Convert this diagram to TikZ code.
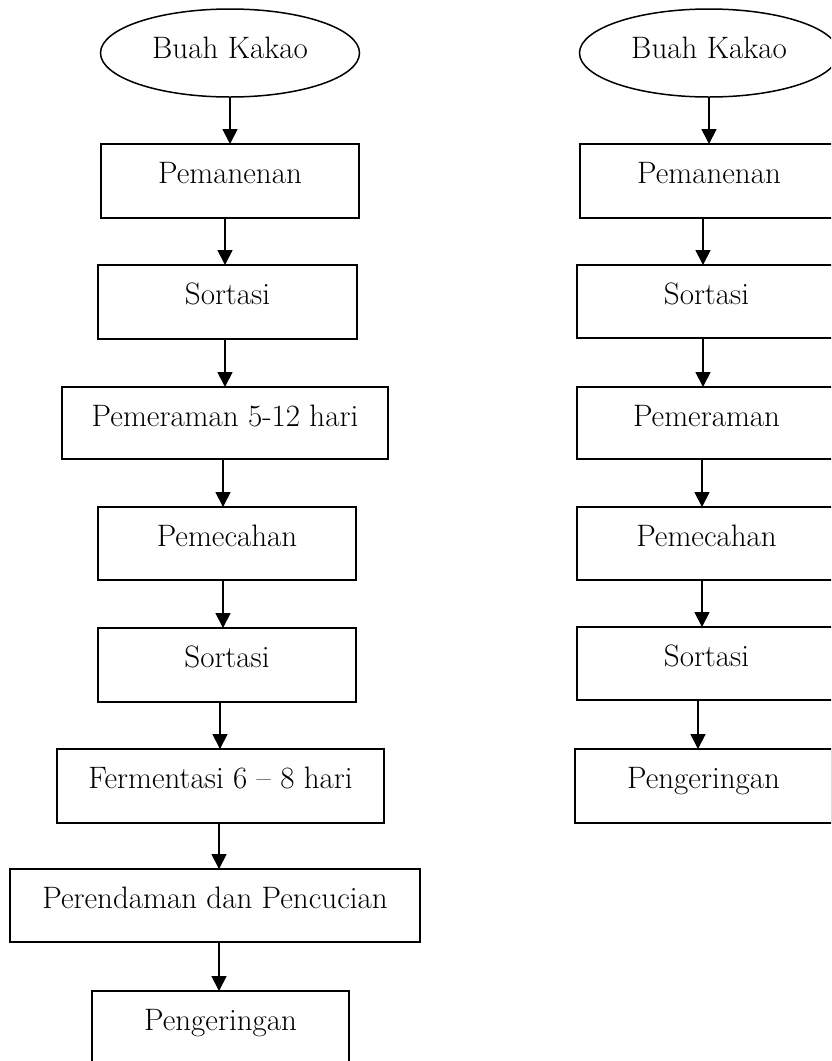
\documentclass[tikz,border=0pt]{standalone}
\usetikzlibrary{arrows.meta,shapes.geometric}
\begin{document}
\begin{tikzpicture}[x=1pt,y=-1pt,
  every node/.style={font=\fontsize{31}{36}\selectfont},
  stepbox/.style={draw, rectangle, line width=1.8pt, inner sep=0pt, outer sep=0pt,
    text height=39pt, text depth=35pt, anchor=north},
  startnode/.style={draw, ellipse, line width=1.5pt, inner sep=0pt, outer sep=0pt,
    text height=20pt, text depth=10pt, minimum width=259pt, minimum height=88pt},
  arr/.style={line width=1.8pt, -{Triangle[width=15pt,length=15pt]}}]
\useasboundingbox (0,0) rectangle (831,1061);
\clip (0,0) rectangle (831,1061);

% left column
\node[startnode] (e1) at (230,53) {Buah Kakao};
\node[stepbox, minimum width=258pt] (p1) at (230,144) {Pemanenan};
\node[stepbox, minimum width=259pt] (s1) at (227.5,265) {Sortasi};
\node[stepbox, minimum width=326pt, text depth=33pt] (m1) at (225,387) {Pemeraman 5-12 hari};
\node[stepbox, minimum width=258pt, text depth=34pt] (c1) at (227,507) {Pemecahan};
\node[stepbox, minimum width=258pt] (s2) at (227,628) {Sortasi};
\node[stepbox, minimum width=327pt] (f1) at (220.5,749) {Fermentasi 6 \textendash{} 8 hari};
\node[stepbox, minimum width=410pt, text depth=34pt] (r1) at (215,869) {Perendaman dan Pencucian};
\node[stepbox, minimum width=257pt] (g1) at (220.5,991) {Pengeringan};

\draw[arr] (e1.south) -- (e1.south |- p1.north);
\draw[arr] ([xshift=-5pt]p1.south) -- ([xshift=-5pt]p1.south |- s1.north);
\draw[arr] ([xshift=-2.5pt]s1.south) -- ([xshift=-2.5pt]s1.south |- m1.north);
\draw[arr] ([xshift=-2pt]m1.south) -- ([xshift=-2pt]m1.south |- c1.north);
\draw[arr] ([xshift=-4pt]c1.south) -- ([xshift=-4pt]c1.south |- s2.north);
\draw[arr] ([xshift=-7pt]s2.south) -- ([xshift=-7pt]s2.south |- f1.north);
\draw[arr] ([xshift=-1.5pt]f1.south) -- ([xshift=-1.5pt]f1.south |- r1.north);
\draw[arr] ([xshift=4pt]r1.south) -- ([xshift=4pt]r1.south |- g1.north);

% right column
\node[startnode] (e2) at (709,53) {Buah Kakao};
\node[stepbox, minimum width=258pt] (p2) at (709,144) {Pemanenan};
\node[stepbox, minimum width=259pt, text depth=34pt] (s3) at (706.5,265) {Sortasi};
\node[stepbox, minimum width=259pt, text depth=33pt] (m2) at (706.5,387) {Pemeraman};
\node[stepbox, minimum width=259pt, text depth=34pt] (c2) at (706.5,507) {Pemecahan};
\node[stepbox, minimum width=259pt, text depth=34pt] (s4) at (706.5,627) {Sortasi};
\node[stepbox, minimum width=257pt] (g2) at (703.5,749) {Pengeringan};

\draw[arr] (e2.south) -- (e2.south |- p2.north);
\draw[arr] ([xshift=-6pt]p2.south) -- ([xshift=-6pt]p2.south |- s3.north);
\draw[arr] ([xshift=-3.5pt]s3.south) -- ([xshift=-3.5pt]s3.south |- m2.north);
\draw[arr] ([xshift=-4.5pt]m2.south) -- ([xshift=-4.5pt]m2.south |- c2.north);
\draw[arr] ([xshift=-4.5pt]c2.south) -- ([xshift=-4.5pt]c2.south |- s4.north);
\draw[arr] ([xshift=-8.5pt]s4.south) -- ([xshift=-8.5pt]s4.south |- g2.north);
\end{tikzpicture}
\end{document}
